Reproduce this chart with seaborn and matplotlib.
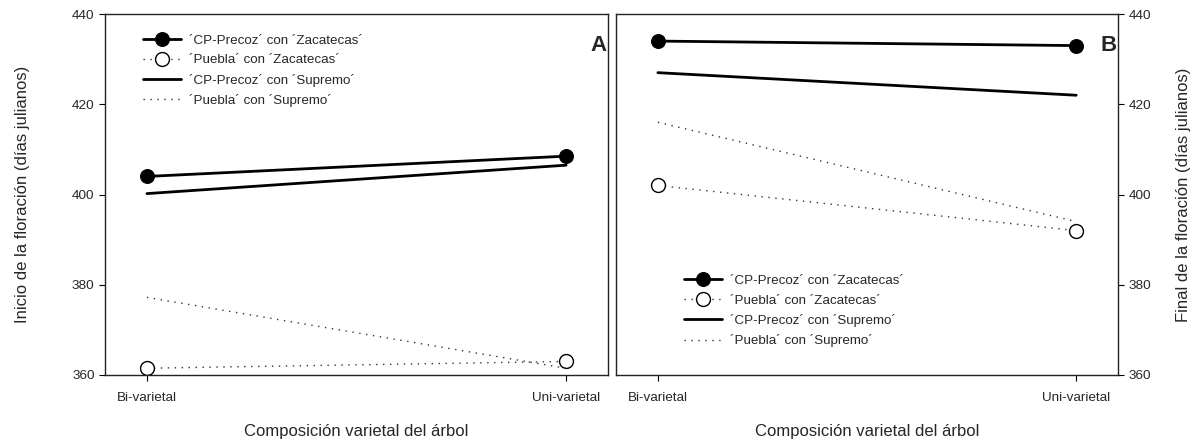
import matplotlib
matplotlib.use("Agg")
import matplotlib.pyplot as plt
import pandas as pd
import seaborn as sns

# %% Data
positions = [0, 1]
composition_labels = ["Bi-varietal", "Uni-varietal"]
series_names = [
    "´CP-Precoz´ con ´Zacatecas´",
    "´Puebla´ con ´Zacatecas´",
    "´CP-Precoz´ con ´Supremo´",
    "´Puebla´ con ´Supremo´",
]

# Panel A: inicio de la floración
inicio_cp_zac = [404.0, 408.5]
inicio_pue_zac = [361.5, 363.0]
inicio_cp_sup = [400.2, 406.5]
inicio_pue_sup = [377.2, 361.5]

# Panel B: final de la floración
final_cp_zac = [434.0, 433.0]
final_pue_zac = [402.0, 392.0]
final_cp_sup = [427.0, 422.0]
final_pue_sup = [416.0, 394.0]

# %% Styles
sns.set_style("white")
plt.rcParams["font.family"] = ["Liberation Sans", "DejaVu Sans"]

styles = [
    dict(color="black", linewidth=2.0, linestyle="-", marker="o", markersize=10,
         markerfacecolor="black", markeredgecolor="black"),
    dict(color="#333333", linewidth=1.0, linestyle=(0, (1, 4)), marker="o", markersize=10,
         markerfacecolor="white", markeredgecolor="black", markeredgewidth=1.0),
    dict(color="black", linewidth=2.0, linestyle="-"),
    dict(color="#333333", linewidth=1.0, linestyle=(0, (1, 4))),
]


def draw_panel(ax, values, letter, ylabel, legend_anchor, right=False):
    handles = []
    for name, vals, st in zip(series_names, values, styles):
        df = pd.DataFrame({"pos": positions, "dias": vals})
        sns.lineplot(data=df, x="pos", y="dias", ax=ax, **st)
        handles.append(ax.get_lines()[-1])

    ax.set_xlim(-0.1, 1.1)
    ax.set_ylim(360, 440)
    ax.set_xticks(positions)
    ax.set_xticklabels(composition_labels)
    ax.set_yticks([360, 380, 400, 420, 440])
    ax.set_xlabel("Composición varietal del árbol", fontsize=12, labelpad=15)
    ax.tick_params(axis="both", which="both", direction="out", length=4,
                   width=0.8, labelsize=9.7, color="black")
    ax.tick_params(axis="x", pad=8)
    if right:
        ax.yaxis.tick_right()
        ax.yaxis.set_label_position("right")
        ax.set_ylabel(ylabel, fontsize=12, labelpad=18, rotation=90)
        ax.tick_params(axis="y", left=False, right=True)
    else:
        ax.set_ylabel(ylabel, fontsize=12, labelpad=30)
        ax.tick_params(axis="y", left=True, right=False)
    ax.tick_params(axis="x", bottom=True)

    for spine in ax.spines.values():
        spine.set_visible(True)
        spine.set_color("#222222")
        spine.set_linewidth(1.0)

    ax.text(0.997, 0.912, letter, transform=ax.transAxes, ha="right", va="center",
            fontsize=16, fontweight="bold")

    ax.legend(handles, series_names, loc="upper left", bbox_to_anchor=legend_anchor,
              frameon=False, fontsize=9.6, handlelength=2.9, handletextpad=0.6,
              labelspacing=0.55, borderpad=0, borderaxespad=0, numpoints=1,
              markerscale=1.0)


fig = plt.figure(figsize=(11.96, 4.42), dpi=100)
ax_a = fig.add_axes([0.0878, 0.1516, 0.4206, 0.8167])
ax_b = fig.add_axes([0.5151, 0.1516, 0.4197, 0.8167])

draw_panel(ax_a, [inicio_cp_zac, inicio_pue_zac, inicio_cp_sup, inicio_pue_sup],
           "A", "Inicio de la floración (días julianos)", (0.075, 0.944))
draw_panel(ax_b, [final_cp_zac, final_pue_zac, final_cp_sup, final_pue_sup],
           "B", "Final de la floración (días julianos)", (0.135, 0.278), right=True)

fig.savefig("out.png", dpi=100)
